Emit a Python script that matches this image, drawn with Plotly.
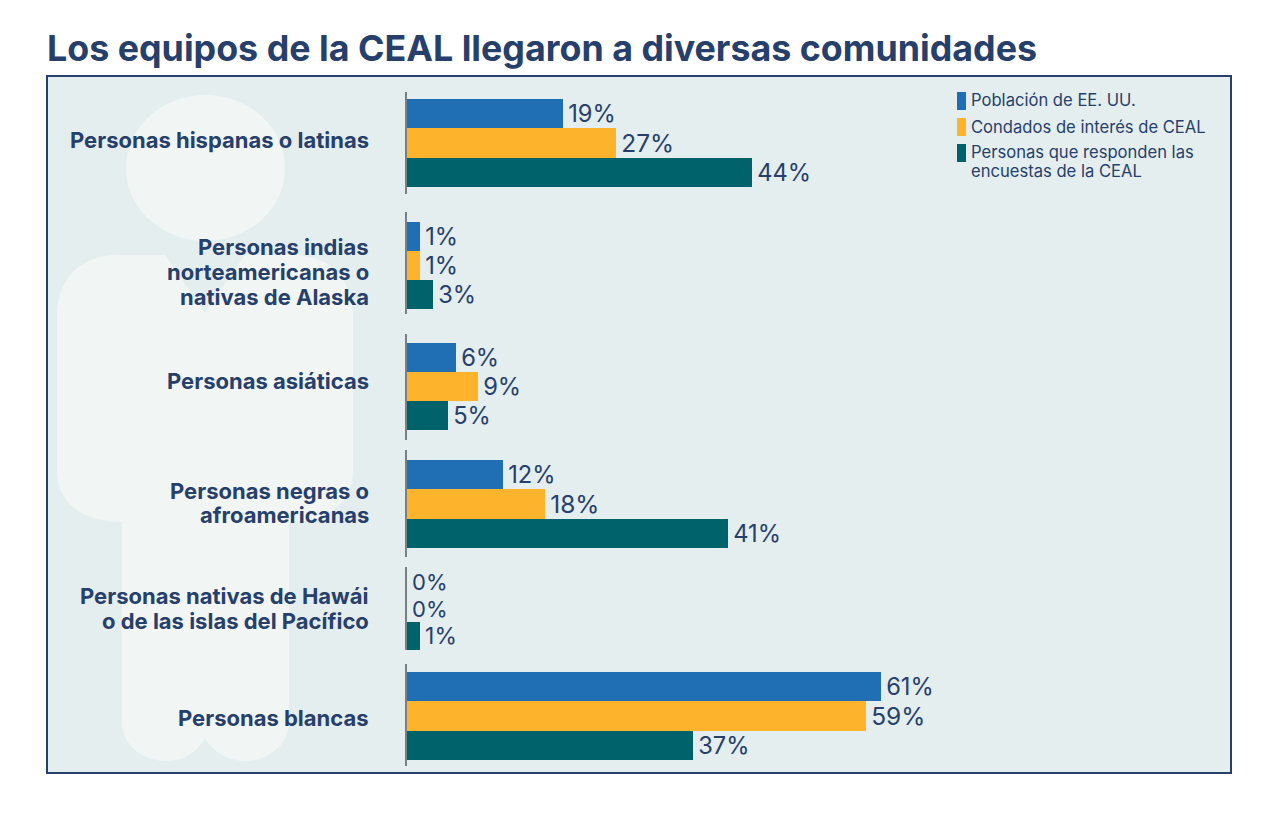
import plotly.graph_objects as go

title = "Los equipos de la CEAL llegaron a diversas comunidades"
groups = ["Personas hispanas o latinas",
          "Personas indias<br>norteamericanas o<br>nativas de Alaska",
          "Personas asiáticas",
          "Personas negras o<br>afroamericanas",
          "Personas nativas de Hawái<br>o de las islas del Pacífico",
          "Personas blancas"]
series = ["Población de EE. UU.", "Condados de interés de CEAL",
          "Personas que responden las<br>encuestas de la CEAL"]
poblacion = [20.1, 1.7, 6.3, 12.3, 0, 60.9]
condados = [26.9, 1.7, 9.1, 17.8, 0, 59.0]
encuestas = [44.4, 3.4, 5.3, 41.2, 1.7, 36.7]
label_pob = ["19%", "1%", "6%", "12%", "0%", "61%"]
label_con = ["27%", "1%", "9%", "18%", "0%", "59%"]
label_enc = ["44%", "3%", "5%", "41%", "1%", "37%"]

BLUE, GOLD, TEAL = "#206eb3", "#fdb32b", "#00626a"
NAVY = "#27406b"
COLORS = [BLUE, GOLD, TEAL]
FONT = "Inter"
W, H = 1259, 809
OX, OY = 8, 8  # page offset of the figure


def px(x):
    return (x - OX) / W


def py(y):
    return 1 - (y - OY) / H


# group geometry on the page: axis segment top, bottom, first bar top, bar pitch
geom = [(92, 194, 99, 29.3), (212, 314, 222, 29), (334, 440, 343, 29),
        (450, 557, 460, 29.3), (567, 650, 568, 27.2), (664, 766, 672, 29.3)]
label_y = [140, 272, 381, 503, 608, 718]
LABEL_PITCH, LEGEND_PITCH = 25, 19

fig = go.Figure()
layout_axes = {}
for i, (top, bot, first, pitch) in enumerate(geom):
    name = "y" if i == 0 else f"y{i+1}"
    fig.add_trace(go.Bar(
        x=[poblacion[i], condados[i], encuestas[i]],
        y=["a", "b", "c"],
        yaxis=name, xaxis="x", orientation="h", width=1,
        marker=dict(color=COLORS, line=dict(width=0)),
        text=["\u200a" + t for t in (label_pob[i], label_con[i], label_enc[i])],
        textposition="outside", cliponaxis=False,
        textfont=dict(family=FONT, size=24.5, color=NAVY),
        showlegend=False, hoverinfo="skip"))
    r0 = -0.5 - (first - top) / pitch
    r1 = r0 + (bot - top) / pitch
    key = "yaxis" if i == 0 else f"yaxis{i+1}"
    layout_axes[key] = dict(domain=[py(bot), py(top)], range=[r1, r0], type="category",
                            categoryorder="array", categoryarray=["a", "b", "c"],
                            anchor="x", showticklabels=False, ticks="", showgrid=False,
                            zeroline=False, showline=True, linecolor="#7a7f85", linewidth=2,
                            fixedrange=True)

shapes = [
    dict(type="rect", xref="paper", yref="paper", x0=px(47), x1=px(1231), y0=py(773), y1=py(76),
         fillcolor="#e4eeef", line=dict(color=NAVY, width=2), layer="below"),
    dict(type="circle", xref="paper", yref="paper", x0=px(126), x1=px(285), y0=py(241), y1=py(95),
         fillcolor="#f1f6f5", line=dict(width=0), layer="below"),
]
P = lambda x, y: f"{px(x):.5f},{py(y):.5f}"
body = (f"M{P(118,255)} L{P(165,255)} L{P(205,313)} L{P(245,255)} L{P(293,255)} "
        f"C{P(330,255)} {P(353,280)} {P(353,315)} L{P(353,470)} C{P(353,505)} {P(325,522)} {P(289,522)} "
        f"L{P(289,722)} C{P(289,745)} {P(268,761)} {P(245,761)} C{P(228,761)} {P(213,752)} {P(205,738)} "
        f"C{P(197,752)} {P(184,761)} {P(167,761)} C{P(142,761)} {P(122,745)} {P(122,722)} "
        f"L{P(122,522)} C{P(85,522)} {P(57,505)} {P(57,470)} L{P(57,315)} C{P(57,280)} {P(80,255)} {P(118,255)} Z")
shapes.append(dict(type="path", path=body, xref="paper", yref="paper",
                   fillcolor="#f1f6f5", line=dict(width=0), layer="below"))

annotations = [dict(text=f"<b>{title}</b>", xref="paper", yref="paper", x=px(45), y=py(47.5),
                    xanchor="left", yanchor="middle", showarrow=False,
                    font=dict(family=FONT, size=35.8, color=NAVY))]
for g, y in zip(groups, label_y):
    lines = g.split("<br>")
    for k, line in enumerate(lines):
        ly = y + (k - (len(lines) - 1) / 2) * LABEL_PITCH
        annotations.append(dict(text=f"<b>{line}</b>", xref="paper", yref="paper", x=px(371), y=py(ly),
                                xanchor="right", yanchor="middle", align="right", showarrow=False,
                                font=dict(family=FONT, size=22, color=NAVY)))

# legend key
for s, c, y0, y1, ty in zip(series, COLORS, (92, 118, 144), (110, 136, 162), (100, 127, 162)):
    shapes.append(dict(type="rect", xref="paper", yref="paper", x0=px(957), x1=px(966),
                       y0=py(y1), y1=py(y0), fillcolor=c, line=dict(width=0)))
    lines = s.split("<br>")
    for k, line in enumerate(lines):
        ly = ty + (k - (len(lines) - 1) / 2) * LEGEND_PITCH
        annotations.append(dict(text=line, xref="paper", yref="paper", x=px(969), y=py(ly),
                                xanchor="left", yanchor="middle", align="left", showarrow=False,
                                font=dict(family=FONT, size=16.6, color=NAVY)))

fig.update_layout(
    width=W, height=H, margin=dict(l=0, r=0, t=0, b=0),
    paper_bgcolor="white", plot_bgcolor="rgba(0,0,0,0)",
    barmode="overlay", bargap=0, showlegend=False,
    font=dict(family=FONT, color=NAVY),
    xaxis=dict(domain=[px(407), px(1231)], range=[0, 824 / 7.78], visible=False, anchor="y",
               fixedrange=True),
    shapes=shapes, annotations=annotations, **layout_axes)

fig.write_html("out.html")
